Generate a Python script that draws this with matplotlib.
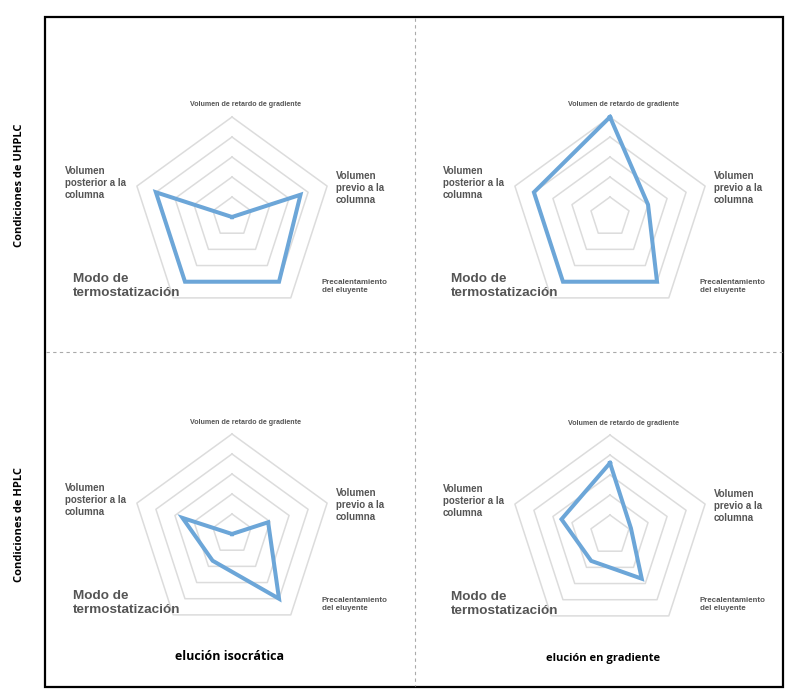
import numpy as np
import matplotlib
matplotlib.use("Agg")
import matplotlib.pyplot as plt
from matplotlib.lines import Line2D
from matplotlib.patches import Rectangle

W, H = 800, 697

categories = ["Volumen de retardo de gradiente", "Volumen\nprevio a la\ncolumna",
              "Precalentamiento\ndel eluyente", "Modo de\ntermostatización",
              "Volumen\nposterior a la\ncolumna"]
row_labels = ["Condiciones de UHPLC", "Condiciones de HPLC"]
col_labels = ["elución isocrática", "elución en gradiente"]

uhplc_iso = [0, 3.6, 4, 4, 4]
uhplc_grad = [5, 2, 4, 4, 4]
hplc_iso = [0, 1.9, 4, 1.65, 2.6]
hplc_grad = [3.6, 1.1, 2.7, 1.6, 2.55]
levels = [1, 2, 3, 4, 5]

LINE = "#6ca6d8"
GRID = "#dcdcdc"
TXT = "#555555"


def fx(x):
    return x / W


def fy(y):
    return 1 - y / H


fig = plt.figure(figsize=(W / 100, H / 100), dpi=100)
fig.patch.set_facecolor("white")

# outer frame + dashed dividers
fig.add_artist(Rectangle((fx(45), fy(687)), fx(783) - fx(45), fy(17) - fy(687),
                         transform=fig.transFigure, fill=False, lw=1.6, ec="black"))
fig.add_artist(Line2D([fx(415), fx(415)], [fy(18), fy(686)], transform=fig.transFigure,
                      color="#aaaaaa", lw=0.8, ls=(0, (3, 3))))
fig.add_artist(Line2D([fx(46), fx(782)], [fy(352), fy(352)], transform=fig.transFigure,
                      color="#aaaaaa", lw=0.8, ls=(0, (3, 3))))

panels = [((232, 217), uhplc_iso), ((610, 217), uhplc_grad),
          ((232, 534), hplc_iso), ((610, 535), hplc_grad)]
R = 100
theta = np.deg2rad(np.arange(5) * 72.0)
theta_c = np.append(theta, theta[0])

lab_font = "Liberation Sans"
# (dx, dy, size, ha) for each category label relative to the panel center
label_pos = [(13, -112, 5.1, "center"), (104, -29, 7.0, "left"),
             (90, 70, 5.7, "left"), (-159, 69, 9.7, "left"),
             (-167, -34, 7.0, "left")]

for (cx, cy), vals in panels:
    ax = fig.add_axes([fx(cx - R), fy(cy + R), 2 * R / W, 2 * R / H], projection="polar")
    ax.set_theta_offset(np.pi / 2)
    ax.set_theta_direction(-1)
    ax.set_ylim(0, 5)
    ax.axis("off")
    for lv in levels:
        ax.plot(theta_c, [lv] * 6, color=GRID, lw=1.1, clip_on=False, zorder=1)
    v = np.append(vals, vals[0])
    ax.plot(theta_c, v, color=LINE, lw=2.9, clip_on=False, zorder=3,
            solid_joinstyle="miter")
    for (dx, dy, sz, ha), name in zip(label_pos, categories):
        fig.text(fx(cx + dx), fy(cy + dy), name, ha=ha, va="center", fontsize=sz,
                 fontweight="bold", color=TXT, family=lab_font, linespacing=1.2)

fig.text(fx(20), fy(185), row_labels[0], rotation=90, ha="center", va="center",
         fontsize=8, fontweight="bold", family="Open Sans")
fig.text(fx(20), fy(525), row_labels[1], rotation=90, ha="center", va="center",
         fontsize=8, fontweight="bold", family="Open Sans")
fig.text(fx(230), fy(657), col_labels[0], ha="center", va="center",
         fontsize=9, fontweight="bold", family="Open Sans")
fig.text(fx(603), fy(658), col_labels[1], ha="center", va="center",
         fontsize=8, fontweight="bold", family="Open Sans")

fig.savefig("out.png", dpi=100)
